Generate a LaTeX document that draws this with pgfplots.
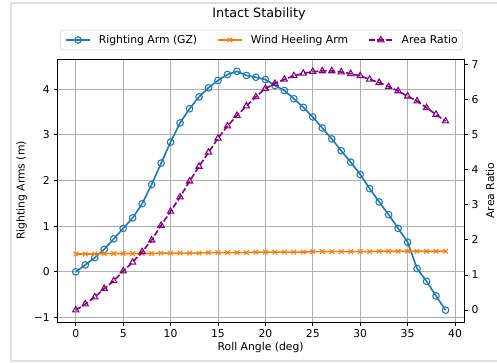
\documentclass[border=0pt]{standalone}
\usepackage{fontspec}
\setmainfont{DejaVu Sans}
\usepackage{pgfplots}
\usepackage{pgfplotstable}
\pgfplotsset{compat=1.18}
\definecolor{cA}{HTML}{1F77B4}
\definecolor{cB}{HTML}{FF7F0E}
\definecolor{cC}{HTML}{800080}
\definecolor{gridc}{HTML}{B0B0B0}
\definecolor{framec}{HTML}{E0E0E0}
\definecolor{legc}{HTML}{CCCCCC}
\newcommand{\fs}{\fontsize{10.8}{13}\selectfont}

\pgfplotstableread{
x gz wind ar
0 0.00 0.39 0.00
1 0.15 0.39 0.17
2 0.31 0.39 0.37
3 0.49 0.40 0.61
4 0.72 0.40 0.83
5 0.95 0.40 1.11
6 1.18 0.40 1.36
7 1.49 0.40 1.66
8 1.91 0.40 1.99
9 2.38 0.41 2.41
10 2.84 0.41 2.81
11 3.26 0.41 3.22
12 3.57 0.41 3.67
13 3.83 0.41 4.09
14 4.03 0.42 4.49
15 4.19 0.42 4.89
16 4.32 0.42 5.24
17 4.39 0.42 5.54
18 4.30 0.42 5.81
19 4.26 0.43 6.07
20 4.21 0.43 6.31
21 4.08 0.43 6.45
22 3.97 0.43 6.57
23 3.79 0.43 6.67
24 3.60 0.43 6.74
25 3.39 0.44 6.79
26 3.15 0.44 6.81
27 2.91 0.44 6.81
28 2.65 0.44 6.78
29 2.40 0.44 6.73
30 2.13 0.44 6.67
31 1.82 0.44 6.57
32 1.53 0.45 6.48
33 1.25 0.45 6.36
34 0.95 0.45 6.24
35 0.65 0.45 6.09
36 0.07 0.45 5.95
37 -0.21 0.45 5.76
38 -0.53 0.45 5.57
39 -0.84 0.45 5.38
}\data

\pgfplotsset{common/.style={
  at={(57.3pt,41pt)}, anchor=south west, scale only axis,
  width=406.7pt, height=263pt,
  xmin=-1.95, xmax=40.95,
  xtick={0,5,...,40},
  tick align=outside, major tick length=3.7pt,
  tick style={black, line width=0.85pt},
  axis line style={black, line width=0.85pt},
  tick label style={font=\fs, inner sep=0pt},
  xticklabel style={yshift=-3.7pt},
  /pgf/number format/assume math mode=true,
  label style={font=\fs, inner sep=0pt},
  legend image code/.code={\draw[mark repeat=2,mark phase=2,##1] plot coordinates {(0pt,0pt) (12pt,0pt) (24pt,0pt)};},
}}

\begin{document}
\begin{tikzpicture}[x=1pt,y=1pt]
\useasboundingbox (0,0) rectangle (497,363);
\fill[white] (0,0) rectangle (497,363);
\draw[framec, line width=1.5pt] (505,2) -- (11,2) -- (11,360) -- (505,360);
\node[font=\fontsize{12.8}{15}\selectfont, anchor=base, inner sep=0pt] at (259,345.4) {Intact Stability};

\begin{axis}[common,
  ymin=-1.10, ymax=4.66,
  ytick={-1,0,1,2,3,4}, yticklabels={−1,0,1,2,3,4},
  yticklabel style={xshift=-3.7pt},
  tick pos=left,
  grid=major, grid style={gridc, line width=0.85pt},
  xlabel={Roll Angle (deg)},
  xlabel style={at={(axis description cs:0.5,-0.076)}, anchor=north},
  ylabel={Righting Arms (m)},
  ylabel style={at={(axis description cs:-0.0875,0.5)}, anchor=center},
]
\addplot[cA, line width=1.6pt, mark=o, mark size=3.3pt, mark options={line width=1.06pt}] table[x=x, y=gz] {\data};
\addplot[cB, line width=1.6pt, mark=x, mark size=3.2pt, mark options={line width=1.06pt}] table[x=x, y=wind] {\data};
\end{axis}

\begin{axis}[common,
  ymin=-0.34, ymax=7.15,
  ytick={0,1,...,7},
  yticklabel style={xshift=3.7pt},
  hide x axis,
  axis y line*=right,
  ylabel={Area Ratio},
  ylabel style={at={(axis description cs:1.064,0.5)}, anchor=center, rotate=0},
  legend columns=3,
  legend style={at={(0.502,1.034)}, anchor=south, draw=legc, rounded corners=2pt, fill=white,
    font=\fs, inner xsep=4.5pt, inner ysep=5pt,
    nodes={inner sep=0pt},
    /tikz/every even column/.append style={column sep=20pt},
    /tikz/every odd column/.append style={column sep=8pt}},
]
\addlegendimage{cA, line width=1.6pt, mark=o, mark size=3.3pt, mark options={line width=1.06pt}}
\addlegendentry{Righting Arm (GZ)}
\addlegendimage{cB, line width=1.6pt, mark=x, mark size=3.2pt, mark options={line width=1.06pt}}
\addlegendentry{Wind Heeling Arm}
\addplot[cC, line width=1.6pt, dash pattern=on 5.9pt off 2.5pt, mark=triangle, mark size=3.6pt, mark options={solid, line width=1.06pt}] table[x=x, y=ar] {\data};
\addlegendentry{Area Ratio}
\end{axis}
\end{tikzpicture}
\end{document}
